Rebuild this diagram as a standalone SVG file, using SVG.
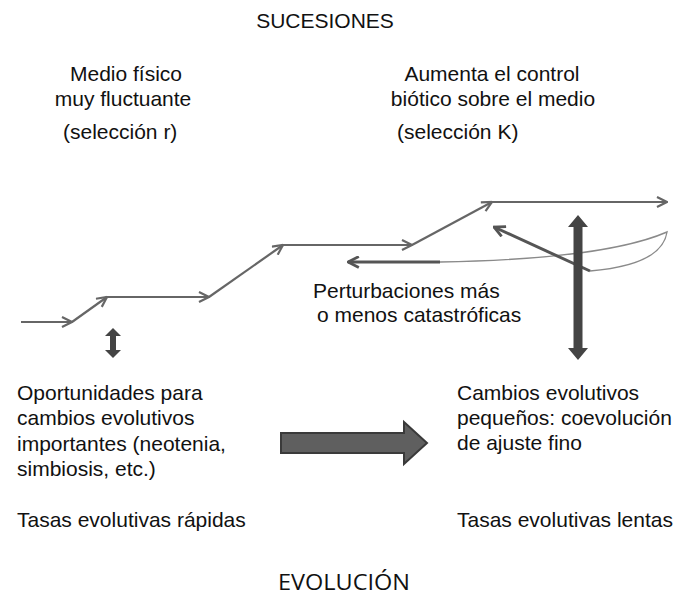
<svg xmlns="http://www.w3.org/2000/svg" width="680" height="599" viewBox="0 0 680 599">
<style>
  .t { font-family: "Liberation Sans", Arial, sans-serif; font-size: 21px; fill: #111; }
  .ttl { font-family: "Open Sans", "Liberation Sans", sans-serif; font-size: 22px; fill: #111; }
  .seg { fill: none; stroke: #666; stroke-width: 2.2; marker-end: url(#chev); }
  .thin { fill: none; stroke: #8a8a8a; stroke-width: 1.4; }
  .thick { fill: none; stroke: #555; stroke-width: 3; }
  .dbl { fill: #444; stroke: none; }
</style>
<defs>
  <marker id="chev" viewBox="0 0 12 12" refX="11" refY="6" markerWidth="12" markerHeight="12" markerUnits="userSpaceOnUse" orient="auto">
    <path d="M1,1 L11,6 L1,11" fill="none" stroke="#666" stroke-width="2.2"/>
  </marker>
  <marker id="chevd" viewBox="0 0 12 12" refX="11" refY="6" markerWidth="13" markerHeight="13" markerUnits="userSpaceOnUse" orient="auto">
    <path d="M1,1 L11,6 L1,11" fill="none" stroke="#555" stroke-width="2.6"/>
  </marker>
</defs>
<rect width="680" height="599" fill="#fff"/>

<g id="title-sucesiones"><text class="t" x="325" y="28" text-anchor="middle">SUCESIONES</text></g>

<g id="medio-fisico">
  <text class="t" x="126" y="81" text-anchor="middle">Medio físico</text>
  <text class="t" x="123" y="106" text-anchor="middle">muy fluctuante</text>
  <text class="t" x="63" y="139">(selección r)</text>
</g>

<g id="control-biotico">
  <text class="t" x="492" y="81" text-anchor="middle">Aumenta el control</text>
  <text class="t" x="493" y="106" text-anchor="middle">biótico sobre el medio</text>
  <text class="t" x="397" y="139">(selección K)</text>
</g>

<g id="perturbaciones">
  <text class="t" x="313" y="298">Perturbaciones más</text>
  <text class="t" x="317" y="322">o menos catastróficas</text>
</g>

<g id="oportunidades">
  <text class="t" x="17" y="400">Oportunidades para</text>
  <text class="t" x="17" y="425">cambios evolutivos</text>
  <text class="t" x="17" y="451">importantes (neotenia,</text>
  <text class="t" x="17" y="476">simbiosis, etc.)</text>
  <text class="t" x="17" y="527">Tasas evolutivas rápidas</text>
</g>

<g id="cambios-pequenos">
  <text class="t" x="457" y="400">Cambios evolutivos</text>
  <text class="t" x="457" y="425">pequeños: coevolución</text>
  <text class="t" x="457" y="450">de ajuste fino</text>
  <text class="t" x="457" y="527">Tasas evolutivas lentas</text>
</g>

<g id="title-evolucion"><text class="ttl" x="344" y="590" text-anchor="middle" textLength="132" lengthAdjust="spacingAndGlyphs">EVOLUCIÓN</text></g>

<g id="connectors">
  <path class="seg" d="M21,322 L72,322"/>
  <path class="seg" d="M72,322 L107,297"/>
  <path class="seg" d="M107,297 L209,297"/>
  <path class="seg" d="M209,297 L283,245"/>
  <path class="seg" d="M283,245 L412,245"/>
  <path class="seg" d="M412,245 L492,202"/>
  <path class="seg" d="M492,202 L667,202"/>

  <path class="thin" d="M440,262 Q605,259 667,232 Q662,265 590,271"/>
  <path class="thick" d="M440,262 L348,262" marker-end="url(#chevd)"/>
  <path class="thick" d="M590,271 L494,227" marker-end="url(#chevd)"/>

  <path class="dbl" d="M113,328 L121,336 L116,336 L116,350 L121,350 L113,358 L105,350 L110,350 L110,336 L105,336 Z"/>
  <path class="dbl" d="M578,215 L588,227 L582.5,227 L582.5,348 L588,348 L578,360 L568,348 L573.5,348 L573.5,227 L568,227 Z"/>

  <polygon points="281,433 404,433 404,422 427,443 404,464 404,453 281,453" fill="#5f5f5f" stroke="#3a3a3a" stroke-width="2" stroke-linejoin="miter"/>
</g>
</svg>
